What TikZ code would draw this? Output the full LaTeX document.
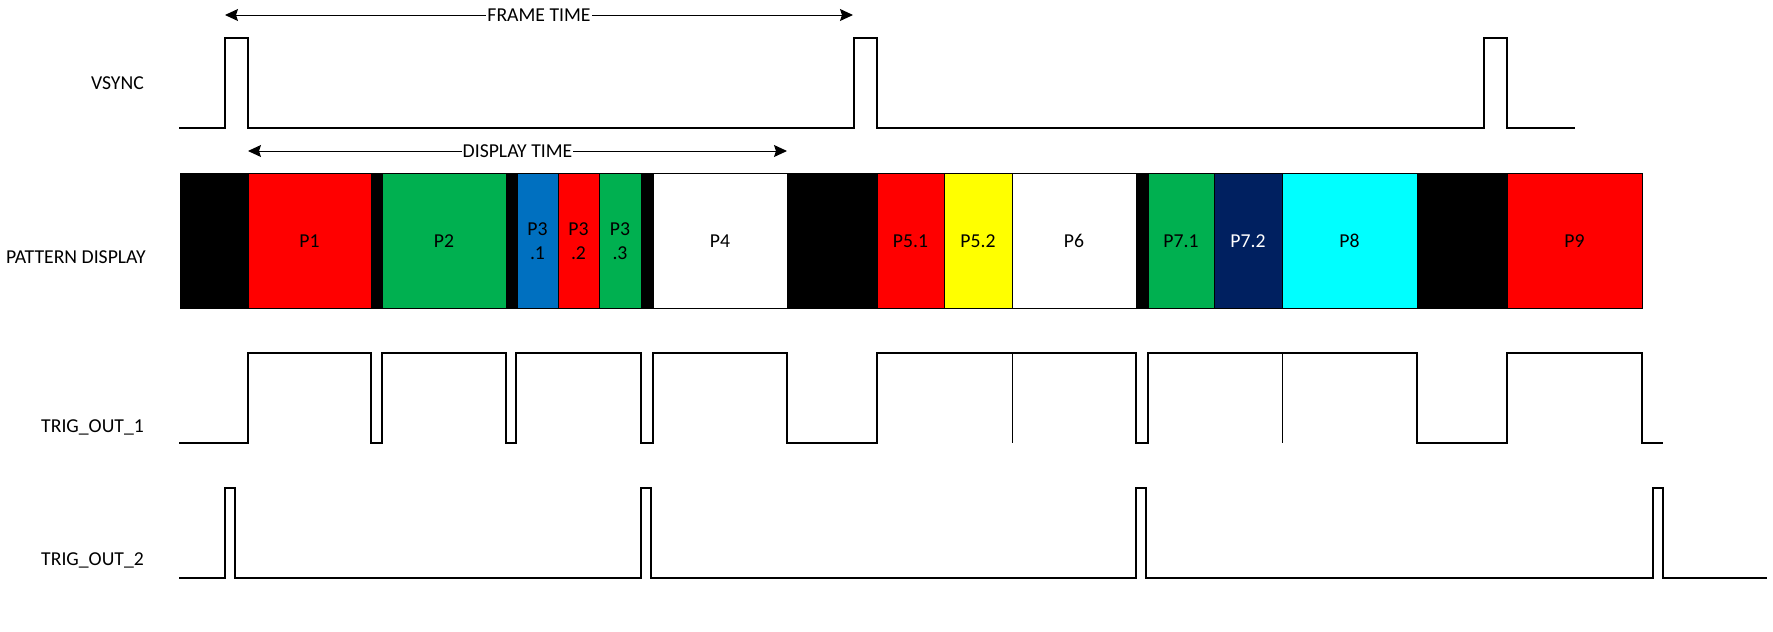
\documentclass[tikz,border=0pt]{standalone}
\usepackage{fontspec}
\setmainfont{Carlito}
\usetikzlibrary{arrows.meta}

\definecolor{pred}{HTML}{FF0000}
\definecolor{pgreen}{HTML}{00B050}
\definecolor{pblue}{HTML}{0070C0}
\definecolor{pyellow}{HTML}{FFFF00}
\definecolor{pnavy}{HTML}{002060}
\definecolor{pcyan}{HTML}{00FFFF}

\begin{document}
\begin{tikzpicture}[x=1pt,y=-1pt,
  font=\fontsize{19.7}{24}\selectfont,
  wave/.style={line width=1.2pt},
  mark line/.style={line width=0.6pt},
  siglabel/.style={anchor=east,inner sep=0pt},
  timespan/.style={{Stealth[length=13pt,width=12pt,inset=2pt]}-{Stealth[length=13pt,width=12pt,inset=2pt]},line width=1pt}]
  \useasboundingbox (0,0) rectangle (1773,632);

  % signal names
  \node[siglabel] (vsync) at (144,83) {VSYNC};
  \node[siglabel] (pattern) at (146,257) {PATTERN DISPLAY};
  \node[siglabel] (trig1) at (144,427) {TRIG\_OUT\_1};
  \node[siglabel] (trig2) at (144,560) {TRIG\_OUT\_2};

  % frame time and display time
  \coordinate (frame start) at (225,15);
  \coordinate (frame end) at (853,15);
  \coordinate (disp start) at (248,151);
  \coordinate (disp end) at (787,151);
  \draw[timespan] (frame start) -- node[fill=white,inner sep=1pt] (frametime) {FRAME TIME} (frame end);
  \draw[timespan] (disp start) -- node[fill=white,inner sep=1pt] (disptime) {DISPLAY TIME} (disp end);

  % pattern display
  \foreach \xa/\xb/\col/\txt/\tc in {180/248/black//black, 248/371/pred/P1/black,
      371/382/black//black, 382/506/pgreen/P2/black, 506/517/black//black,
      517/558/pblue/{P3\\.1}/black, 558/599/pred/{P3\\.2}/black,
      599/641/pgreen/{P3\\.3}/black, 641/653/black//black, 653/787/white/P4/black,
      787/877/black//black, 877/944/pred/P5.1/black, 944/1012/pyellow/P5.2/black,
      1012/1136/white/P6/black, 1136/1148/black//black, 1148/1214/pgreen/P7.1/black,
      1214/1282/pnavy/P7.2/white, 1282/1417/pcyan/P8/black, 1417/1507/black//black,
      1507/1642/pred/P9/black}
  {
    \filldraw[fill=\col,draw=black,mark line] (\xa,173) rectangle (\xb,308);
    \node[text=\tc,align=center,inner sep=0pt] (seg\xa) at ({(\xa+\xb)/2},241) {\txt};
  }
  \draw[line width=1pt] (180,173) rectangle (1642,308);

  % VSYNC
  \draw[wave] (179,128) -| (225,38) -| (248,128) -| (854,38) -| (877,128)
    -| (1484,38) -| (1507,128) -- (1575,128);

  % TRIG_OUT_1
  \draw[wave] (179,443) -| (248,353) -| (371,443) -| (382,353) -| (506,443)
    -| (516,353) -| (641,443) -| (653,353) -| (787,443) -| (877,353)
    -| (1136,443) -| (1148,353) -| (1417,443) -| (1507,353) -| (1642,443)
    -- (1663,443);
  \draw[mark line] (1012,353) -- (1012,443);
  \draw[mark line] (1282,353) -- (1282,443);

  % TRIG_OUT_2
  \draw[wave] (179,578) -| (225,488) -| (235,578) -| (641,488) -| (651,578)
    -| (1136,488) -| (1146,578) -| (1653,488) -| (1663,578) -- (1767,578);
\end{tikzpicture}
\end{document}
